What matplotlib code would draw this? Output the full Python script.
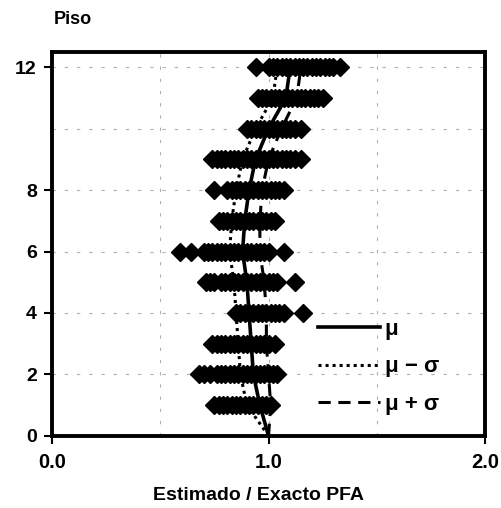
import matplotlib
matplotlib.use("Agg")
import matplotlib.pyplot as plt
from matplotlib.lines import Line2D

plt.rcParams['font.family'] = ['Liberation Sans', 'DejaVu Sans']

# ---- data ----
floors = [1, 2, 3, 4, 5, 6, 7, 8, 9, 10, 11, 12]
ratios = {
    1: [0.75, 0.77, 0.79, 0.81, 0.83, 0.85, 0.87, 0.89, 0.91, 0.93, 0.95, 0.97, 0.99, 1.01],
    2: [0.68, 0.70, 0.73, 0.76, 0.78, 0.80, 0.82, 0.84, 0.86, 0.88, 0.90, 0.92, 0.94, 0.96, 0.98, 1.00, 1.02, 1.04],
    3: [0.74, 0.76, 0.78, 0.80, 0.82, 0.84, 0.86, 0.88, 0.90, 0.92, 0.94, 0.96, 0.98, 1.00, 1.03],
    4: [0.85, 0.87, 0.89, 0.91, 0.93, 0.95, 0.97, 0.99, 1.01, 1.03, 1.05, 1.07, 1.16],
    5: [0.71, 0.73, 0.75, 0.78, 0.80, 0.82, 0.84, 0.86, 0.88, 0.90, 0.92, 0.94, 0.96, 0.98, 1.00, 1.02, 1.04, 1.12],
    6: [0.59, 0.64, 0.70, 0.72, 0.74, 0.76, 0.78, 0.80, 0.82, 0.84, 0.86, 0.88, 0.90, 0.92, 0.94, 0.96, 0.98, 1.00, 1.07],
    7: [0.77, 0.79, 0.81, 0.83, 0.85, 0.87, 0.89, 0.91, 0.93, 0.95, 0.97, 0.99, 1.01, 1.03],
    8: [0.75, 0.81, 0.83, 0.85, 0.87, 0.89, 0.91, 0.93, 0.95, 0.97, 0.99, 1.01, 1.03, 1.05, 1.07],
    9: [0.74, 0.76, 0.78, 0.80, 0.82, 0.84, 0.86, 0.88, 0.90, 0.92, 0.94, 0.96, 0.98, 1.00, 1.02, 1.04, 1.06, 1.08, 1.10, 1.12, 1.15],
    10: [0.90, 0.92, 0.94, 0.96, 0.98, 1.00, 1.02, 1.04, 1.06, 1.08, 1.10, 1.12, 1.15],
    11: [0.95, 0.97, 0.99, 1.01, 1.03, 1.05, 1.07, 1.09, 1.11, 1.13, 1.15, 1.17, 1.19, 1.21, 1.23, 1.25],
    12: [0.94, 1.00, 1.02, 1.04, 1.06, 1.08, 1.10, 1.12, 1.14, 1.16, 1.18, 1.20, 1.22, 1.24, 1.26, 1.28, 1.30, 1.33],
}

line_floors = [0, 1, 2, 3, 4, 5, 6, 7, 8, 9, 10, 11, 12]
mu = [1.00, 0.96, 0.93, 0.92, 0.91, 0.90, 0.88, 0.89, 0.91, 0.94, 1.00, 1.08, 1.10]
mu_minus_sigma = [1.00, 0.90, 0.87, 0.86, 0.85, 0.84, 0.82, 0.83, 0.85, 0.88, 0.94, 1.02, 1.04]
mu_plus_sigma = [1.00, 1.01, 1.00, 0.99, 0.99, 0.98, 0.96, 0.96, 0.97, 1.00, 1.06, 1.13, 1.15]

xticks = [0.0, 1.0, 2.0]
xticklabels = ["0.0", "1.0", "2.0"]
yticks = [0, 2, 4, 6, 8, 12]
yticklabels = ["0", "2", "4", "6", "8", "12"]

# ---- figure ----
fig = plt.figure(figsize=(5.01, 5.08), dpi=100)
ax = fig.add_axes([0.104, 0.142, 0.864, 0.756])

for f in floors:
    xs = ratios[f]
    ax.plot(xs, [f] * len(xs), linestyle='none', marker='D', markersize=9,
            color='black', zorder=3)

ax.plot(mu, line_floors, color='black', lw=2.6, zorder=4)
ax.plot(mu_minus_sigma, line_floors, color='black', lw=2.2, linestyle=(0, (1, 1.3)), zorder=4)
ax.plot(mu_plus_sigma, line_floors, color='black', lw=2.2, linestyle=(0, (4, 2.5)), zorder=4)

# grid
for gx in [0.5, 1.0, 1.5]:
    ax.axvline(gx, color='#b0b0b0', lw=0.8, linestyle=(0, (3, 8)), zorder=1)
for gy in [2, 4, 6, 8, 10, 12]:
    ax.axhline(gy, color='#b0b0b0', lw=0.8, linestyle=(0, (3, 8)), zorder=1)

ax.set_xlim(0, 2.0)
ax.set_ylim(0, 12.5)
ax.set_xticks(xticks)
ax.set_xticklabels(xticklabels, fontsize=14.5, fontweight='bold')
ax.set_yticks(yticks)
ax.set_yticklabels(yticklabels, fontsize=14, fontweight='bold')
ax.tick_params(direction='out', length=6, width=1.5)
ax.tick_params(axis='x', pad=6)
ax.tick_params(axis='y', pad=5)
for sp in ax.spines.values():
    sp.set_linewidth(2.8)

ax.set_xlabel("Estimado / Exacto PFA", fontsize=14, fontweight='bold')
ax.xaxis.set_label_coords(0.476, -0.132)
fig.text(0.145, 0.962, "Piso", fontsize=13, fontweight='bold', ha='center', va='center')

handles = [
    Line2D([], [], color='black', lw=2.6),
    Line2D([], [], color='black', lw=2.2, linestyle=(0, (1, 1.3))),
    Line2D([], [], color='black', lw=2.2, linestyle=(0, (4, 2.5))),
]
ax.legend(handles, ["\u03bc", "\u03bc \u2212 \u03c3", "\u03bc + \u03c3"],
          loc='upper left', bbox_to_anchor=(0.614, 0.305), frameon=False,
          borderpad=0, borderaxespad=0,
          handlelength=2.8, handletextpad=0.2, labelspacing=0.75,
          prop={'size': 16, 'weight': 'bold'})

fig.savefig("out.png", dpi=100)
